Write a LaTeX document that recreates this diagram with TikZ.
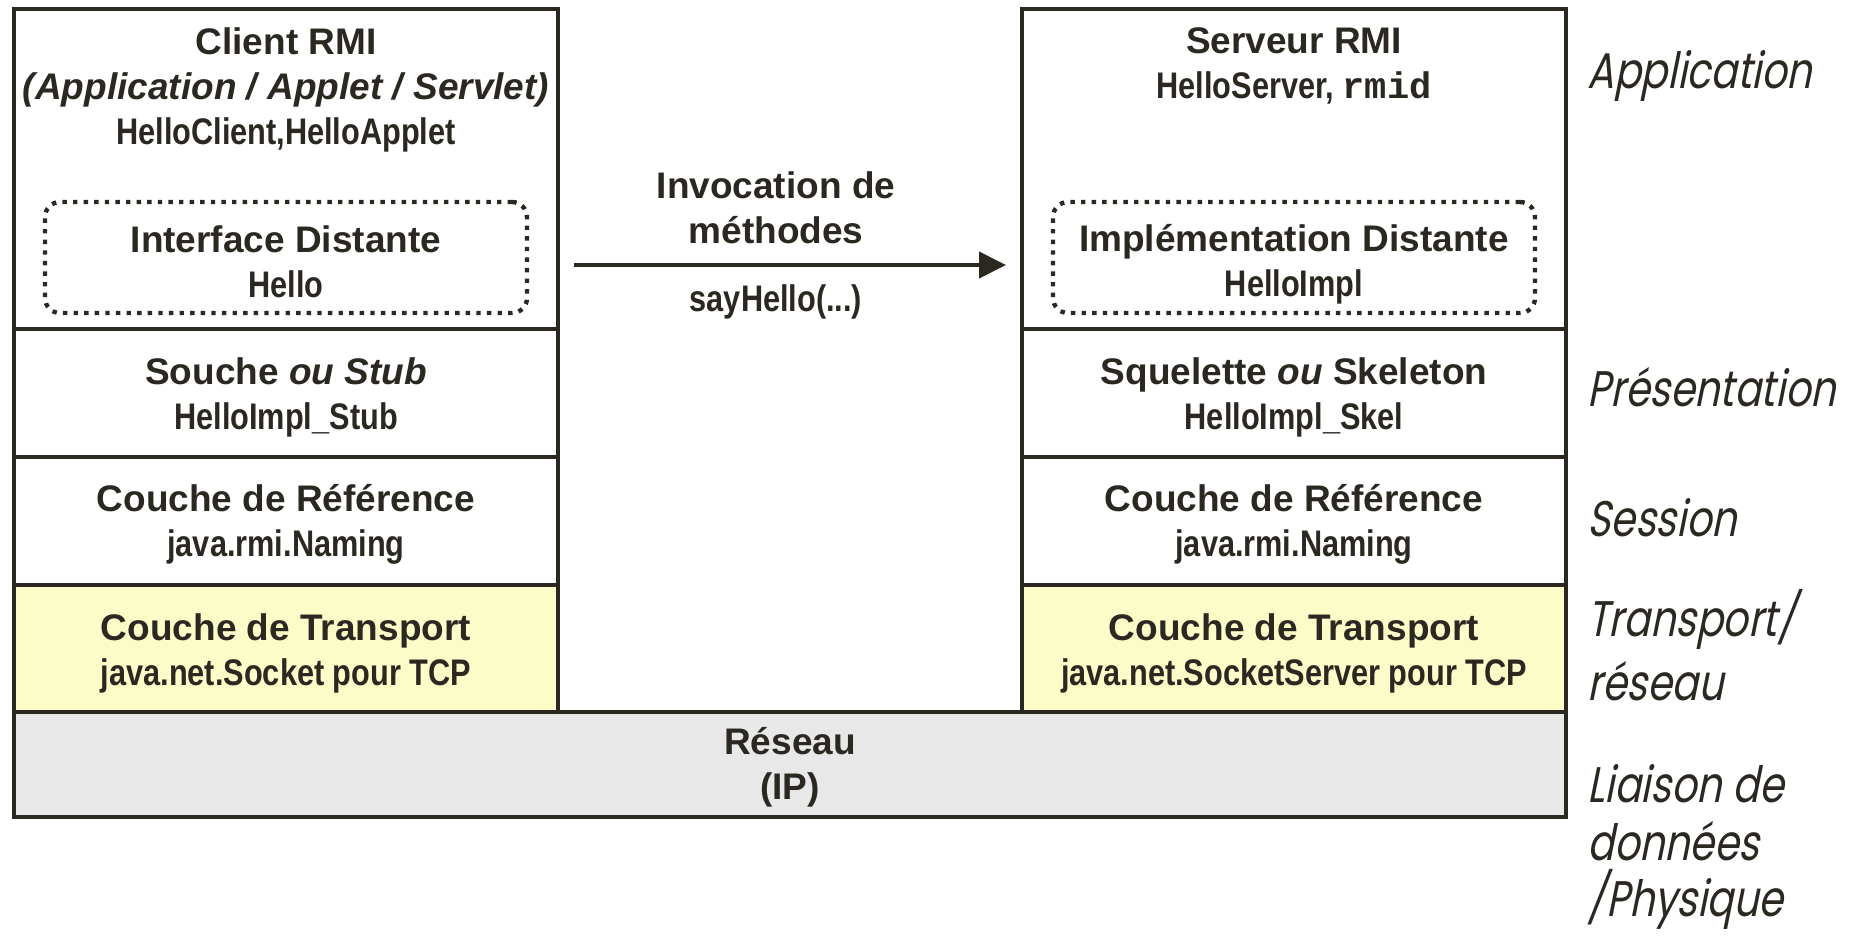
\documentclass[tikz,border=0pt]{standalone}
\usepackage{fontspec}
\setmainfont{Liberation Sans}
\setmonofont{Liberation Mono}
\newfontfamily\narrowfont[FakeStretch=0.83]{Liberation Sans}
\newfontfamily\layerfont[FakeStretch=0.79,FakeSlant=0.2]{Poppins}
\usetikzlibrary{arrows.meta}
\definecolor{ink}{HTML}{2B2822}
\definecolor{transfill}{HTML}{FCFCC8}
\definecolor{netfill}{HTML}{E8E8E8}

\begin{document}
\begin{tikzpicture}[x=0.5pt,y=-0.5pt,
  layer/.style={draw=ink,line width=2pt,inner sep=0pt,minimum width=272pt},
  remote/.style={draw=ink,line width=2.2pt,dash pattern=on 2.2pt off 3.1pt,
    rounded corners=7.5pt,inner sep=0pt,minimum width=241pt,minimum height=55.5pt},
  title/.style={text=ink,align=center,inner sep=0pt,
    font=\bfseries\fontsize{18.5}{22.5}\selectfont},
  osi/.style={anchor=base west,inner sep=0pt,text=ink,
    font=\layerfont\fontsize{25}{32}\selectfont}]
\useasboundingbox (0,0) rectangle (1849,938);

% Client side
\node[layer,minimum height=160pt] (capp) at (286,169) {};
\node[layer,minimum height=64pt] (cstub) at (286,393) {};
\node[layer,minimum height=64pt] (cref) at (286,521) {};
\node[layer,minimum height=63.5pt,fill=transfill] (ctrans) at (286,648.5) {};
\node[remote] (iface) at (286,257.5) {};

\node[title] (capptxt) at (286,90) {Client RMI\\\textit{(Application / Applet / Servlet)}\\{\narrowfont HelloClient,HelloApplet}};
\node[title] (ifacetxt) at (286,262) {Interface Distante\\{\narrowfont Hello}};
\node[title] (cstubtxt) at (286,397) {Souche \textit{ou Stub}\\{\narrowfont HelloImpl\_Stub}};
\node[title] (creftxt) at (286,524) {Couche de Référence\\{\narrowfont java.rmi.Naming}};
\node[title] (ctranstxt) at (286,653) {Couche de Transport\\{\narrowfont java.net.Socket pour TCP}};

% Server side
\node[layer,minimum height=160pt] (sapp) at (1294,169) {};
\node[layer,minimum height=64pt] (sskel) at (1294,393) {};
\node[layer,minimum height=64pt] (sref) at (1294,521) {};
\node[layer,minimum height=63.5pt,fill=transfill] (strans) at (1294,648.5) {};
\node[remote] (impl) at (1294,257.5) {};

\node[title] (sapptxt) at (1294,66) {Serveur RMI\\{\narrowfont HelloServer, }{\ttfamily rmid}};
\node[title] (impltxt) at (1294,264) {Implémentation Distante\\{\narrowfont HelloImpl}};
\node[title] (sskeltxt) at (1294,397) {Squelette \textit{ou} Skeleton\\{\narrowfont HelloImpl\_Skel}};
\node[title] (sreftxt) at (1294,524) {Couche de Référence\\{\narrowfont java.rmi.Naming}};
\node[title] (stranstxt) at (1294,653) {Couche de Transport\\{\narrowfont java.net.SocketServer pour TCP}};

% Network
\node[layer,minimum width=776pt,minimum height=52.5pt,fill=netfill] (net) at (790,764.5) {};
\node[title] (nettxt) at (790,767) {Réseau\\(IP)};

% Method call
\coordinate (callfrom) at (574,265);
\coordinate (callto) at (1006,265);
\draw[ink,line width=2pt,-{Triangle[length=13.5pt,width=13pt]}] (callfrom) -- (callto);
\node[title] (calltxt) at (776,208) {Invocation de\\méthodes};
\node[title] (callname) at (776,302) {\narrowfont sayHello(...)};

% OSI layers
\node[osi] (lapp) at (1587,88) {Application};
\node[osi] (lpres) at (1587,406) {Présentation};
\node[osi] (lsess) at (1587,536) {Session};
\node[osi] (ltrans) at (1587,636) {Transport/};
\node[osi] (lnet) at (1587,700) {réseau};
\node[osi] (llink) at (1587,802) {Liaison de};
\node[osi] (ldata) at (1587,860) {données};
\node[osi] (lphys) at (1587,916) {/Physique};

\end{tikzpicture}
\end{document}
